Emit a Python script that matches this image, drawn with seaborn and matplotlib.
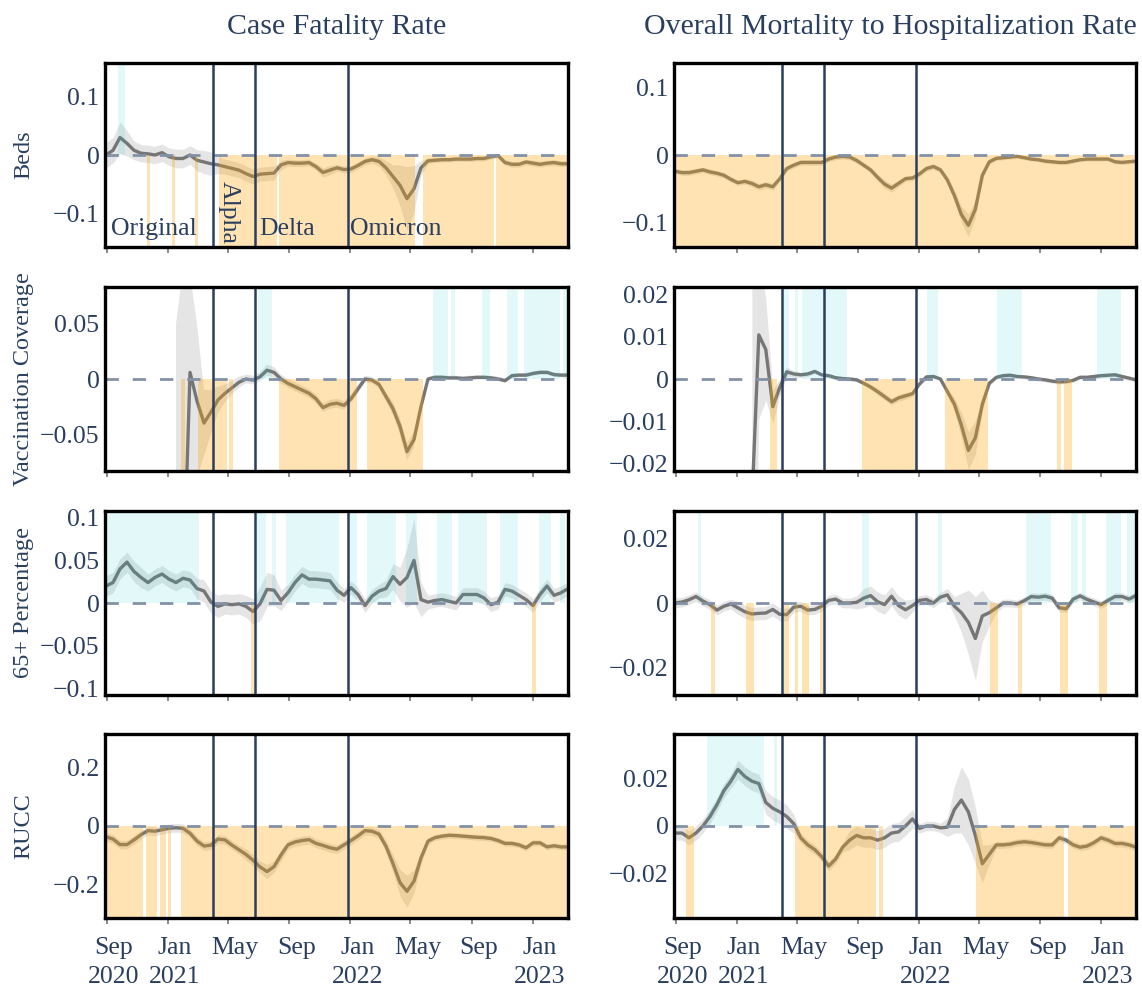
import numpy as np
import pandas as pd
import matplotlib
matplotlib.use("Agg")
import matplotlib.pyplot as plt
from matplotlib.transforms import ScaledTranslation
import seaborn as sns

nan = np.nan

# ---------------- data ----------------
dates = pd.date_range("2020-08-30", periods=67, freq="14D")

col_titles = ["Case Fatality Rate", "Overall Mortality to Hospitalization Rate"]
row_labels = ["Beds", "Vaccination Coverage", "65+ Percentage", "RUCC"]
variant_dates = ["2021-04-02", "2021-06-24", "2021-12-27"]
variant_names = ["Original", "Alpha", "Delta", "Omicron"]
tick_dates = ["2020-09-01", "2021-01-01", "2021-05-01", "2021-09-01",
              "2022-01-01", "2022-05-01", "2022-09-01", "2023-01-01"]
tick_labels = ["Sep\n2020", "Jan\n2021", "May", "Sep", "Jan\n2022", "May", "Sep", "Jan\n2023"]

beds_cfr = [0.0, 0.008, 0.030, 0.020, 0.008, 0.003, 0.002, 0.0, 0.004, -0.003,
            -0.006, -0.006, 0.0, -0.009, -0.012, -0.015, -0.017, -0.020, -0.023, -0.026,
            -0.032, -0.037, -0.033, -0.032, -0.031, -0.017, -0.013, -0.014, -0.014, -0.013,
            -0.020, -0.030, -0.026, -0.022, -0.025, -0.024, -0.018, -0.011, -0.008, -0.011,
            -0.022, -0.037, -0.052, -0.075, -0.058, -0.022, -0.010, -0.009, -0.008, -0.008,
            -0.007, -0.007, -0.007, -0.006, -0.006, -0.003, -0.001, -0.013, -0.016, -0.016,
            -0.012, -0.014, -0.016, -0.014, -0.013, -0.015, -0.015]
beds_cfr_ci = [0.022, 0.022, 0.027, 0.022, 0.016, 0.015, 0.015, 0.015, 0.015, 0.015,
               0.016, 0.016, 0.016, 0.018, 0.020, 0.020, 0.015, 0.013, 0.013, 0.013,
               0.013, 0.013, 0.012, 0.012, 0.012, 0.008, 0.006, 0.006, 0.006, 0.006,
               0.006, 0.008, 0.008, 0.006, 0.006, 0.006, 0.006, 0.006, 0.006, 0.008,
               0.012, 0.020, 0.035, 0.055, 0.040, 0.012, 0.005, 0.004, 0.004, 0.004,
               0.004, 0.004, 0.004, 0.004, 0.004, 0.004, 0.004, 0.005, 0.005, 0.005,
               0.005, 0.005, 0.005, 0.005, 0.005, 0.005, 0.005]

beds_omhr = [-0.024, -0.026, -0.026, -0.024, -0.022, -0.025, -0.027, -0.030, -0.036, -0.041,
             -0.039, -0.042, -0.047, -0.044, -0.047, -0.035, -0.020, -0.015, -0.011, -0.011,
             -0.011, -0.011, -0.006, -0.003, -0.002, -0.003, -0.008, -0.015, -0.022, -0.033,
             -0.043, -0.049, -0.042, -0.035, -0.034, -0.028, -0.020, -0.017, -0.022, -0.037,
             -0.060, -0.088, -0.104, -0.080, -0.030, -0.010, -0.005, -0.004, -0.003, -0.002,
             -0.004, -0.006, -0.007, -0.009, -0.010, -0.011, -0.011, -0.009, -0.007, -0.006,
             -0.006, -0.006, -0.006, -0.010, -0.011, -0.010, -0.009]
beds_omhr_ci = [0.004, 0.004, 0.004, 0.004, 0.004, 0.004, 0.004, 0.004, 0.004, 0.004,
                0.004, 0.005, 0.005, 0.005, 0.005, 0.004, 0.004, 0.004, 0.004, 0.004,
                0.004, 0.004, 0.004, 0.004, 0.004, 0.004, 0.004, 0.004, 0.004, 0.005,
                0.006, 0.006, 0.005, 0.004, 0.004, 0.004, 0.004, 0.004, 0.004, 0.005,
                0.008, 0.012, 0.017, 0.012, 0.006, 0.004, 0.003, 0.003, 0.003, 0.003,
                0.003, 0.003, 0.003, 0.003, 0.003, 0.003, 0.003, 0.003, 0.003, 0.003,
                0.003, 0.003, 0.003, 0.003, 0.003, 0.003, 0.003]

vacc_cfr = [nan, nan, nan, nan, nan, nan, nan, nan, nan, nan,
            -0.4, -0.2, 0.006, -0.020, -0.040, -0.030, -0.019, -0.013, -0.008, -0.003,
            0.0, -0.001, 0.002, 0.008, 0.006, 0.0, -0.004, -0.007, -0.010, -0.013,
            -0.018, -0.026, -0.023, -0.022, -0.024, -0.018, -0.009, 0.0, -0.001, -0.005,
            -0.016, -0.027, -0.043, -0.066, -0.055, -0.025, 0.0, 0.0015, 0.0015, 0.001,
            0.001, 0.0005, 0.001, 0.0015, 0.0015, 0.001, 0.0, -0.0015, 0.003, 0.0035,
            0.0035, 0.005, 0.006, 0.006, 0.004, 0.0035, 0.0035]
vacc_cfr_ci = [nan, nan, nan, nan, nan, nan, nan, nan, nan, nan,
               0.45, 0.3, 0.09, 0.07, 0.03, 0.02, 0.012, 0.008, 0.006, 0.005,
               0.004, 0.004, 0.004, 0.005, 0.005, 0.004, 0.004, 0.004, 0.004, 0.004,
               0.004, 0.004, 0.004, 0.004, 0.004, 0.004, 0.004, 0.003, 0.003, 0.003,
               0.004, 0.006, 0.007, 0.008, 0.007, 0.004, 0.002, 0.002, 0.002, 0.002,
               0.002, 0.002, 0.002, 0.002, 0.002, 0.002, 0.002, 0.002, 0.002, 0.002,
               0.002, 0.002, 0.002, 0.002, 0.002, 0.002, 0.002]

vacc_omhr = [nan, nan, nan, nan, nan, nan, nan, nan, nan, nan,
             nan, -0.03, 0.0105, 0.007, -0.0066, -0.002, 0.0017, 0.0012, 0.001, 0.0012,
             0.0018, 0.001, 0.0008, 0.0003, 0.0001, 0.0, -0.0002, -0.001, -0.0019, -0.003,
             -0.0042, -0.0054, -0.0045, -0.004, -0.0035, -0.0012, 0.0005, 0.0006, 0.0, -0.003,
             -0.006, -0.011, -0.017, -0.014, -0.006, -0.001, 0.0004, 0.0008, 0.0009, 0.0006,
             0.0005, 0.0003, 0.0, -0.0002, -0.0005, -0.0007, -0.0006, -0.0003, 0.0004, 0.0004,
             0.0006, 0.0008, 0.0009, 0.001, 0.0006, 0.0002, -0.0002]
vacc_omhr_ci = [nan, nan, nan, nan, nan, nan, nan, nan, nan, nan,
                nan, 0.06, 0.02, 0.012, 0.004, 0.002, 0.0012, 0.0008, 0.0006, 0.0006,
                0.0005, 0.0005, 0.0005, 0.0005, 0.0005, 0.0005, 0.0005, 0.0005, 0.0006, 0.0008,
                0.0008, 0.0008, 0.0008, 0.0008, 0.0006, 0.0005, 0.0005, 0.0005, 0.0005, 0.0008,
                0.0015, 0.003, 0.0045, 0.004, 0.0015, 0.0006, 0.0005, 0.0005, 0.0005, 0.0005,
                0.0005, 0.0005, 0.0005, 0.0005, 0.0005, 0.0005, 0.0005, 0.0005, 0.0005, 0.0005,
                0.0005, 0.0005, 0.0005, 0.0005, 0.0005, 0.0005, 0.0005]

ages_cfr = [0.020, 0.024, 0.040, 0.048, 0.037, 0.030, 0.024, 0.030, 0.034, 0.028,
            0.024, 0.029, 0.027, 0.017, 0.014, 0.001, -0.004, -0.001, -0.002, -0.001,
            -0.004, -0.010, -0.001, 0.016, 0.015, 0.003, 0.012, 0.024, 0.033, 0.028,
            0.028, 0.027, 0.026, 0.015, 0.009, 0.018, 0.010, -0.003, 0.008, 0.014,
            0.017, 0.031, 0.022, 0.030, 0.050, 0.004, 0.001, 0.003, 0.004, 0.002,
            0.000, 0.010, 0.010, 0.010, 0.006, -0.002, 0.001, 0.016, 0.014, 0.009,
            0.004, -0.003, 0.010, 0.020, 0.009, 0.012, 0.017]
ages_cfr_ci = [0.012, 0.012, 0.012, 0.012, 0.012, 0.012, 0.010, 0.010, 0.010, 0.010,
               0.010, 0.010, 0.010, 0.012, 0.013, 0.013, 0.013, 0.012, 0.012, 0.012,
               0.013, 0.015, 0.020, 0.020, 0.018, 0.012, 0.010, 0.010, 0.010, 0.010,
               0.010, 0.010, 0.010, 0.010, 0.008, 0.008, 0.008, 0.008, 0.008, 0.008,
               0.010, 0.015, 0.020, 0.035, 0.050, 0.020, 0.008, 0.008, 0.008, 0.008,
               0.008, 0.008, 0.008, 0.008, 0.008, 0.008, 0.008, 0.008, 0.008, 0.008,
               0.008, 0.008, 0.008, 0.008, 0.008, 0.008, 0.008]

ages_omhr = [0.0, 0.0003, 0.001, 0.002, 0.0006, -0.0005, -0.0022, -0.001, -0.0003, -0.0015,
             -0.0027, -0.0034, -0.0032, -0.0031, -0.002, -0.0035, -0.0036, -0.0013, -0.001, -0.0022,
             -0.002, -0.001, 0.0008, 0.0012, 0.0, 0.0, 0.0002, 0.0015, 0.0023, 0.0004,
             -0.0005, 0.0021, -0.0008, -0.0021, -0.0008, 0.0008, 0.0011, 0.0, 0.0018, 0.0025,
             -0.001, -0.003, -0.006, -0.011, -0.004, -0.003, -0.0015, 0.0, 0.0, -0.0003,
             0.0007, 0.002, 0.0018, 0.0021, 0.0015, -0.0015, -0.0018, 0.0012, 0.0022, 0.0011,
             0.0003, -0.0005, 0.0008, 0.002, 0.002, 0.0012, 0.0023]
ages_omhr_ci = [0.0015, 0.0015, 0.0015, 0.0015, 0.0015, 0.0015, 0.0015, 0.0015, 0.0015, 0.002,
                0.002, 0.002, 0.002, 0.002, 0.002, 0.002, 0.002, 0.0015, 0.0015, 0.0015,
                0.0015, 0.0015, 0.0015, 0.0015, 0.0015, 0.0015, 0.002, 0.003, 0.003, 0.003,
                0.003, 0.003, 0.003, 0.003, 0.002, 0.0015, 0.0015, 0.0015, 0.0015, 0.002,
                0.003, 0.006, 0.010, 0.013, 0.008, 0.004, 0.0015, 0.0012, 0.0012, 0.0012,
                0.0012, 0.0012, 0.0012, 0.0012, 0.0012, 0.0012, 0.0012, 0.0012, 0.0012, 0.0012,
                0.0012, 0.0012, 0.0012, 0.0012, 0.0012, 0.0012, 0.0012]

rucc_cfr = [-0.037, -0.045, -0.064, -0.064, -0.048, -0.030, -0.016, -0.018, -0.013, -0.008,
            -0.006, -0.008, -0.025, -0.052, -0.069, -0.066, -0.045, -0.048, -0.066, -0.082,
            -0.098, -0.118, -0.141, -0.157, -0.140, -0.100, -0.065, -0.055, -0.050, -0.047,
            -0.060, -0.067, -0.075, -0.080, -0.065, -0.050, -0.034, -0.016, -0.018, -0.028,
            -0.070, -0.130, -0.195, -0.225, -0.190, -0.110, -0.052, -0.040, -0.035, -0.032,
            -0.033, -0.035, -0.037, -0.039, -0.040, -0.043, -0.050, -0.060, -0.060, -0.065,
            -0.075, -0.058, -0.058, -0.072, -0.068, -0.072, -0.072]
rucc_cfr_ci = [0.015, 0.015, 0.015, 0.015, 0.015, 0.015, 0.015, 0.015, 0.015, 0.015,
               0.015, 0.015, 0.015, 0.015, 0.015, 0.015, 0.015, 0.015, 0.015, 0.015,
               0.020, 0.020, 0.020, 0.025, 0.020, 0.020, 0.015, 0.015, 0.015, 0.015,
               0.015, 0.015, 0.015, 0.015, 0.015, 0.015, 0.015, 0.015, 0.015, 0.015,
               0.020, 0.030, 0.045, 0.055, 0.040, 0.020, 0.012, 0.010, 0.010, 0.010,
               0.010, 0.010, 0.010, 0.010, 0.010, 0.010, 0.010, 0.010, 0.010, 0.010,
               0.010, 0.010, 0.010, 0.010, 0.010, 0.010, 0.010]

rucc_omhr = [-0.003, -0.003, -0.005, -0.003, 0.0, 0.004, 0.009, 0.015, 0.019, 0.024,
             0.021, 0.019, 0.018, 0.010, 0.0075, 0.006, 0.004, 0.001, -0.005, -0.008,
             -0.010, -0.013, -0.017, -0.014, -0.009, -0.006, -0.004, -0.005, -0.005, -0.006,
             -0.005, -0.003, -0.0025, 0.0, 0.003, -0.001, 0.0, 0.0, -0.0008, -0.0005,
             0.007, 0.011, 0.006, -0.004, -0.016, -0.012, -0.008, -0.008, -0.0077, -0.007,
             -0.0067, -0.007, -0.0075, -0.008, -0.008, -0.005, -0.006, -0.008, -0.009, -0.0085,
             -0.007, -0.005, -0.006, -0.0074, -0.0074, -0.008, -0.009]
rucc_omhr_ci = [0.003, 0.003, 0.003, 0.003, 0.003, 0.003, 0.003, 0.003, 0.003, 0.004,
                0.004, 0.004, 0.004, 0.005, 0.005, 0.005, 0.005, 0.004, 0.002, 0.002,
                0.002, 0.002, 0.002, 0.002, 0.002, 0.004, 0.004, 0.004, 0.004, 0.004,
                0.004, 0.004, 0.004, 0.004, 0.004, 0.002, 0.002, 0.002, 0.002, 0.004,
                0.010, 0.014, 0.014, 0.012, 0.008, 0.004, 0.0015, 0.0015, 0.0015, 0.0015,
                0.0015, 0.0015, 0.0015, 0.0015, 0.0015, 0.0015, 0.0015, 0.0015, 0.0015, 0.0015,
                0.0015, 0.0015, 0.0015, 0.0015, 0.0015, 0.0015, 0.0015]

# significance periods (start, end)
beds_cfr_pos = [("2020-09-23", "2020-10-07")]
beds_cfr_neg = [("2020-11-20", "2020-11-26"), ("2021-01-09", "2021-01-15"), ("2021-02-24", "2021-03-02"),
                ("2021-04-13", "2021-08-07"), ("2021-08-11", "2022-05-10"), ("2022-05-26", "2022-10-15"),
                ("2022-10-19", "2023-03-12")]
beds_omhr_pos = []
beds_omhr_neg = [("2020-08-28", "2023-03-12")]
vacc_cfr_pos = [("2021-06-30", "2021-07-28"), ("2022-06-15", "2022-07-15"), ("2022-07-21", "2022-07-29"),
                ("2022-09-21", "2022-10-07"), ("2022-11-10", "2022-12-02"), ("2022-12-14", "2023-02-24"),
                ("2023-03-02", "2023-03-10")]
vacc_cfr_neg = [("2021-01-27", "2021-02-04"), ("2021-03-02", "2021-04-29"), ("2021-05-03", "2021-05-11"),
                ("2021-08-11", "2022-01-14"), ("2022-02-03", "2022-05-26")]
vacc_omhr_pos = [("2021-04-05", "2021-04-15"), ("2021-04-27", "2021-05-03"), ("2021-05-11", "2021-08-09"),
                 ("2022-01-18", "2022-02-09"), ("2022-06-07", "2022-07-27"), ("2022-12-24", "2023-02-10")]
vacc_omhr_neg = [("2021-03-08", "2021-03-22"), ("2021-09-08", "2021-12-27"), ("2022-02-23", "2022-05-20"),
                 ("2022-10-05", "2022-10-13"), ("2022-10-19", "2022-11-04")]
ages_cfr_pos = [("2020-08-28", "2021-03-04"), ("2021-06-28", "2021-07-16"), ("2021-07-28", "2021-08-05"),
                ("2021-08-25", "2021-12-09"), ("2021-12-31", "2022-01-14"), ("2022-02-03", "2022-04-02"),
                ("2022-04-22", "2022-05-14"), ("2022-06-23", "2022-07-23"), ("2022-08-04", "2022-10-01"),
                ("2022-10-27", "2022-12-02"), ("2023-01-13", "2023-02-06"), ("2023-02-24", "2023-03-06")]
ages_cfr_neg = [("2021-06-16", "2021-06-22"), ("2022-12-30", "2023-01-07")]
ages_omhr_pos = [("2020-10-15", "2020-10-21"), ("2021-09-08", "2021-09-22"), ("2022-02-09", "2022-02-17"),
                 ("2022-08-04", "2022-09-23"), ("2022-11-02", "2022-11-16"), ("2022-11-24", "2022-12-02"),
                 ("2023-01-11", "2023-02-10"), ("2023-02-22", "2023-03-08")]
ages_omhr_neg = [("2020-11-10", "2020-11-18"), ("2021-01-19", "2021-02-04"), ("2021-04-05", "2021-04-15"),
                 ("2021-04-27", "2021-05-03"), ("2021-05-11", "2021-05-25"), ("2021-06-16", "2021-06-22"),
                 ("2022-05-24", "2022-06-09"), ("2022-07-19", "2022-07-27"), ("2022-10-11", "2022-10-27"),
                 ("2022-12-28", "2023-01-13")]
rucc_cfr_pos = []
rucc_cfr_neg = [("2020-08-28", "2020-11-12"), ("2020-11-18", "2020-12-10"), ("2020-12-16", "2020-12-28"),
                ("2021-01-01", "2021-01-07"), ("2021-01-27", "2023-03-12")]
rucc_omhr_pos = [("2020-11-02", "2021-02-24"), ("2021-03-16", "2021-03-22")]
rucc_omhr_neg = [("2020-09-21", "2020-10-07"), ("2021-04-27", "2021-10-06"), ("2021-10-12", "2021-10-20"),
                 ("2022-04-26", "2022-10-19"), ("2022-10-27", "2023-03-12")]

y_limits = [[0.158, 0.136], [0.0836, 0.0219], [0.108, 0.0285], [0.317, 0.039]]
y_ticks = [[[-0.1, 0, 0.1], [-0.1, 0, 0.1]],
           [[-0.05, 0, 0.05], [-0.02, -0.01, 0, 0.01, 0.02]],
           [[-0.1, -0.05, 0, 0.05, 0.1], [-0.02, 0, 0.02]],
           [[-0.2, 0, 0.2], [-0.02, 0, 0.02]]]

series = [[(beds_cfr, beds_cfr_ci, beds_cfr_pos, beds_cfr_neg),
           (beds_omhr, beds_omhr_ci, beds_omhr_pos, beds_omhr_neg)],
          [(vacc_cfr, vacc_cfr_ci, vacc_cfr_pos, vacc_cfr_neg),
           (vacc_omhr, vacc_omhr_ci, vacc_omhr_pos, vacc_omhr_neg)],
          [(ages_cfr, ages_cfr_ci, ages_cfr_pos, ages_cfr_neg),
           (ages_omhr, ages_omhr_ci, ages_omhr_pos, ages_omhr_neg)],
          [(rucc_cfr, rucc_cfr_ci, rucc_cfr_pos, rucc_cfr_neg),
           (rucc_omhr, rucc_omhr_ci, rucc_omhr_pos, rucc_omhr_neg)]]

# ---------------- style ----------------
sns.set_theme(style="white")
plt.rcParams["font.family"] = ["Liberation Serif", "DejaVu Serif"]
plt.rcParams["axes.unicode_minus"] = True

TXT = "#2a3f5f"
FS = 18.5
W, H = 1142, 992
fig = plt.figure(figsize=(W / 100, H / 100), dpi=100)

col_x = [105, 674]
col_w = [463, 462]
title_cx = [337, 890]
row_top = [63, 287, 511, 734]
row_h = 184
xmin, xmax = pd.Timestamp("2020-08-28"), pd.Timestamp("2023-03-12")


def fmt(v):
    if v == 0:
        return "0"
    return ("%g" % abs(v)) if v > 0 else "\u2212" + ("%g" % abs(v))


for r in range(4):
    for c in range(2):
        vals, ci, pos, neg = series[r][c]
        lim = y_limits[r][c]
        ax = fig.add_axes([col_x[c] / W, 1 - (row_top[r] + row_h) / H, col_w[c] / W, row_h / H])
        df = pd.DataFrame({"date": dates, "v": vals, "ci": ci})
        df["lo"] = df["v"] - df["ci"]
        df["hi"] = df["v"] + df["ci"]
        ax.fill_between(df["date"], df["lo"], df["hi"], color="#808080", alpha=0.2, lw=0, zorder=1)
        sns.lineplot(data=df.dropna(subset=["v"]), x="date", y="v", ax=ax, color="#767676",
                     lw=2.4, errorbar=None, zorder=2)
        for s, e in neg:
            ax.fill_between(pd.to_datetime([s, e]), 0, -lim * 1.01, color="#FFA500", alpha=0.3,
                            lw=0, zorder=3)
        for s, e in pos:
            ax.fill_between(pd.to_datetime([s, e]), 0, lim * 1.01, color="#00CED1", alpha=0.11,
                            lw=0, zorder=3)
        ax.axhline(0, color="#8391a6", lw=2.0, dashes=(4.8, 5.0), zorder=4)
        for vd in variant_dates:
            ax.axvline(pd.Timestamp(vd), color=TXT, lw=1.8, zorder=5)
        ax.set_xlim(xmin, xmax)
        ax.set_ylim(-lim, lim)
        ax.set_xlabel("")
        ax.set_ylabel("")
        yt = y_ticks[r][c]
        ax.set_yticks(yt)
        ax.set_yticklabels([fmt(v) for v in yt])
        ax.set_xticks(pd.to_datetime(tick_dates))
        if r == 3:
            ax.set_xticklabels(tick_labels, linespacing=1.45)
        else:
            ax.set_xticklabels([""] * len(tick_dates))
        ax.tick_params(axis="x", bottom=True, direction="out", length=4.5, width=1.2,
                       color="#777777", labelsize=FS, labelcolor=TXT, pad=9)
        ax.tick_params(axis="y", left=False, length=0, labelsize=FS, labelcolor=TXT, pad=4)
        for lbl in ax.get_xticklabels():
            lbl.set_transform(lbl.get_transform() + ScaledTranslation(0.07, 0, fig.dpi_scale_trans))
        for sp in ax.spines.values():
            sp.set_color("black")
            sp.set_linewidth(2.4)
            sp.set_zorder(10)
        if r == 0 and c == 0:
            ax.text(pd.Timestamp("2020-09-10"), -0.138, variant_names[0], fontsize=FS, color=TXT,
                    ha="left", va="baseline", zorder=6)
            ax.text(pd.Timestamp("2021-04-11"), -0.152, variant_names[1], fontsize=FS, color=TXT,
                    ha="left", va="bottom", rotation=-90, zorder=6)
            ax.text(pd.Timestamp("2021-07-03"), -0.138, variant_names[2], fontsize=FS, color=TXT,
                    ha="left", va="baseline", zorder=6)
            ax.text(pd.Timestamp("2021-12-31"), -0.138, variant_names[3], fontsize=FS, color=TXT,
                    ha="left", va="baseline", zorder=6)

for c in range(2):
    fig.text(title_cx[c] / W, 1 - 27 / H, col_titles[c], fontsize=21.5, color=TXT,
             ha="center", va="center")
for r in range(4):
    fig.text(24 / W, 1 - (row_top[r] + row_h / 2) / H, row_labels[r], fontsize=17.5, color=TXT,
             ha="center", va="center", rotation=90)

fig.savefig("out.png", dpi=100)
